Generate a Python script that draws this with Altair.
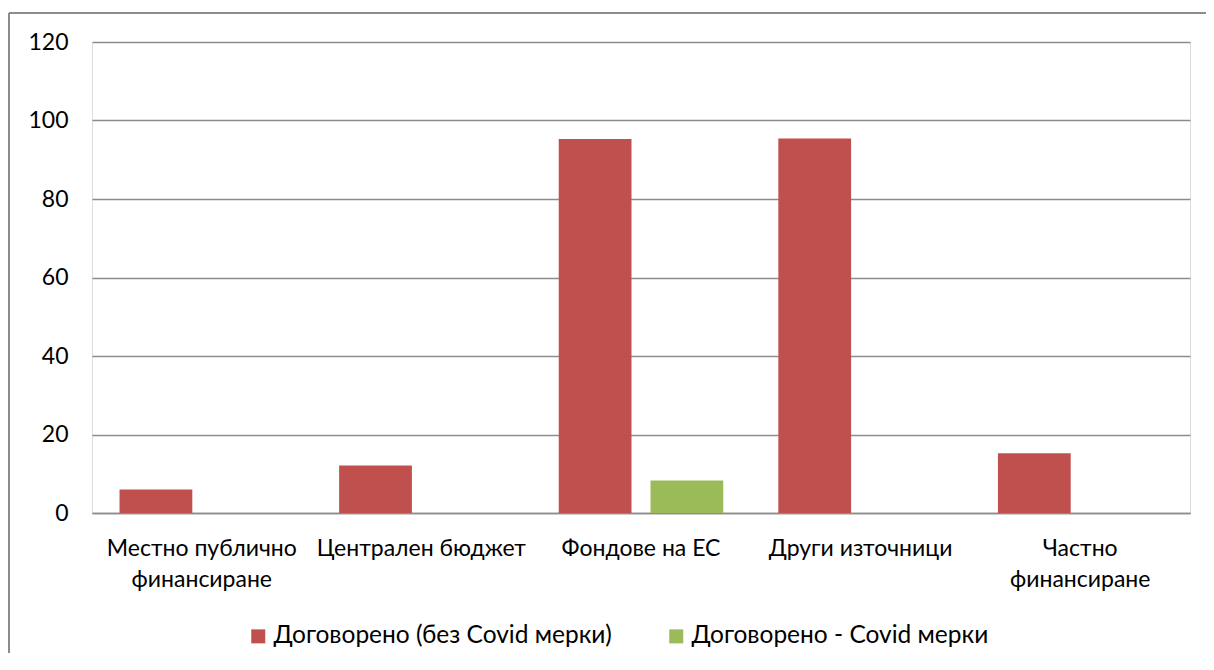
import altair as alt
import pandas as pd

categories = ["Местно публично финансиране", "Централен бюджет", "Фондове на ЕС",
              "Други източници", "Частно финансиране"]
series = ["Договорено (без Covid мерки)", "Договорено - Covid мерки"]
red_values = [6.0, 12.1, 95.3, 95.4, 15.2]
green_values = [0, 0, 8.3, 0, 0]
colors = ["#C0504D", "#9BBB59"]

rows = []
for c, r, g in zip(categories, red_values, green_values):
    rows.append({"cat": c, "series": series[0], "value": r})
    rows.append({"cat": c, "series": series[1], "value": g})
df = pd.DataFrame(rows)

FONT = "Lato"
W, H = 1098, 471

label_expr = ("datum.value == 'Местно публично финансиране' ? ['Местно публично', 'финансиране'] : "
              "datum.value == 'Частно финансиране' ? ['Частно', 'финансиране'] : datum.value")

bars = alt.Chart(df).mark_bar().encode(
    x=alt.X("cat:N", sort=categories, title=None,
            scale=alt.Scale(paddingInner=0, paddingOuter=0),
            axis=alt.Axis(labelAngle=0, labelExpr=label_expr, labelFontSize=23,
                          labelFont=FONT, labelColor="#000000", labelPadding=24,
                          labelLineHeight=31, ticks=False, domain=True,
                          domainColor="#8c8c8c", domainWidth=1.5, grid=False,
                          labelBaseline="top", labelLimit=400)),
    xOffset=alt.XOffset("series:N", sort=series,
                        scale=alt.Scale(paddingInner=0.207, paddingOuter=0.3)),
    y=alt.Y("value:Q", title=None,
            scale=alt.Scale(domain=[0, 120]),
            axis=alt.Axis(values=[0, 20, 40, 60, 80, 100, 120], labelFontSize=23,
                          labelFont=FONT, labelColor="#000000", labelPadding=24,
                          ticks=False, domain=False, grid=True,
                          gridColor="#8c8c8c", gridWidth=1.5)),
    color=alt.Color("series:N", sort=series,
                    scale=alt.Scale(domain=series, range=colors),
                    legend=alt.Legend(title=None, orient="none", direction="horizontal",
                                      legendX=154, legendY=582, symbolType="square",
                                      symbolSize=196, symbolStrokeWidth=0,
                                      labelFont=FONT, labelFontSize=24.5,
                                      labelColor="#000000", columnPadding=52,
                                      labelLimit=500, symbolOffset=0, labelOffset=3)),
)

frame_left = alt.Chart(df).mark_rule(color="#8c8c8c", strokeWidth=1.5).encode(
    x=alt.value(-83), y=alt.value(-29), y2=alt.value(640))
frame_top = alt.Chart(df).mark_rule(color="#8c8c8c", strokeWidth=1.5).encode(
    x=alt.value(-83), x2=alt.value(1130), y=alt.value(-29))

chart = alt.layer(bars, frame_left, frame_top).properties(
    width=W, height=H,
    autosize=alt.AutoSizeParams(type="none"),
    padding={"left": 84, "top": 34, "right": 16, "bottom": 140},
).configure_view(stroke=None).configure(background="white")

chart.save("out.html", embed_options={"renderer": "svg", "actions": False})
